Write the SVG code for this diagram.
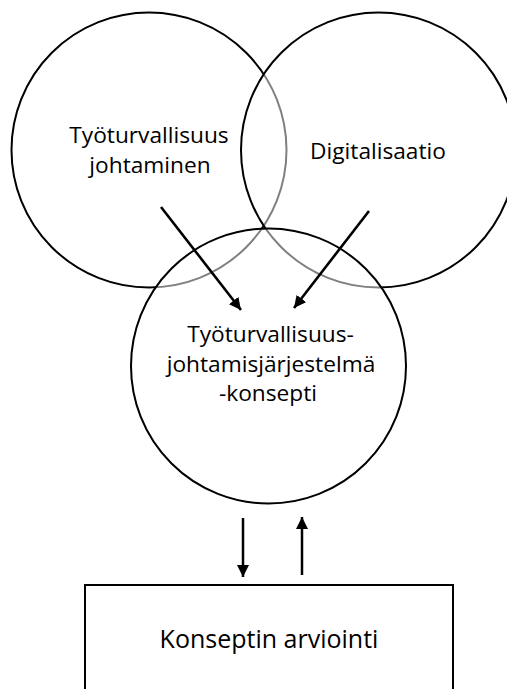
<svg xmlns="http://www.w3.org/2000/svg" width="507" height="689" viewBox="0 0 507 689">
  <style>
    .ring { stroke: #000; stroke-width: 2; }
    .veil { fill: #fff; fill-opacity: 0.5; }
    .label { font-family: "Open Sans", "Liberation Sans", sans-serif; font-size: 22.7px; fill: #000; text-anchor: middle; }
    .label-big { font-size: 25px; }
    .flow { stroke: #000; stroke-width: 2.6; fill: none; }
    .flow-v { stroke: #000; stroke-width: 2.5; fill: none; }
  </style>
  <defs>
    <marker id="head" viewBox="0 0 10 10" refX="10" refY="5" markerUnits="userSpaceOnUse" markerWidth="12" markerHeight="12" orient="auto">
      <path d="M0,0 L10,5 L0,10 Z" fill="#000"/>
    </marker>
  </defs>
  <rect width="507" height="689" fill="#fff"/>

  <g id="node-tyoturvallisuus-johtaminen">
    <circle class="ring" cx="149" cy="150" r="137.5" fill="none"/>
  </g>
  <g id="node-digitalisaatio">
    <circle class="ring veil" cx="378.5" cy="150" r="137.5"/>
  </g>
  <g id="node-konsepti">
    <circle class="ring veil" cx="268.5" cy="366" r="137.5"/>
  </g>

  <g id="labels">
    <text class="label" x="149" y="143">Työturvallisuus</text>
    <text class="label" x="150" y="173">johtaminen</text>
    <text class="label" x="378" y="159">Digitalisaatio</text>
    <text class="label" x="270.5" y="342">Työturvallisuus-</text>
    <text class="label" x="271" y="372">johtamisjärjestelmä</text>
    <text class="label" x="268" y="401">-konsepti</text>
  </g>

  <g id="node-arviointi">
    <rect x="85" y="585" width="368" height="120" fill="#fff" stroke="#000" stroke-width="2"/>
    <text class="label label-big" x="269" y="648">Konseptin arviointi</text>
  </g>

  <g id="connectors">
    <line class="flow" x1="161" y1="207" x2="241" y2="310" marker-end="url(#head)"/>
    <line class="flow" x1="369" y1="211" x2="294" y2="308" marker-end="url(#head)"/>
    <line class="flow-v" x1="243" y1="518" x2="243" y2="577" marker-end="url(#head)"/>
    <line class="flow-v" x1="302" y1="575" x2="302" y2="517" marker-end="url(#head)"/>
  </g>
</svg>
